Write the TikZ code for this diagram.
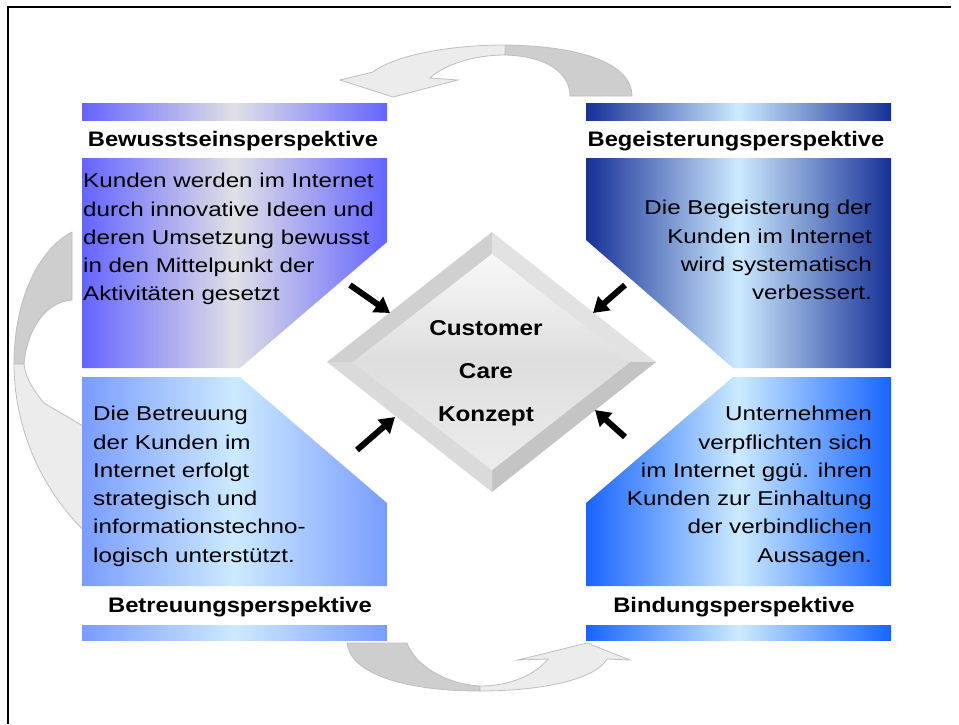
\documentclass[tikz,border=0pt]{standalone}
\usepackage{fontspec}
\setmainfont{Liberation Sans}
\newfontfamily\bodyfont[FakeStretch=1.21]{Liberation Sans}
\newfontfamily\titlefont[FakeStretch=1.13]{Liberation Sans}
\usetikzlibrary{arrows.meta}
\definecolor{tlblue}{RGB}{100,100,255}
\definecolor{tlmid}{RGB}{224,224,230}
\definecolor{trnavy}{RGB}{22,48,150}
\definecolor{lcyan}{RGB}{204,234,255}
\definecolor{blblue}{RGB}{122,156,255}
\definecolor{brblue}{RGB}{24,100,255}
\definecolor{gdarkc}{RGB}{206,206,206}
\definecolor{glightc}{RGB}{236,236,236}
\definecolor{gedgec}{RGB}{190,190,190}
\begin{document}
\begin{tikzpicture}[x=1pt,y=-1pt,
  ttl/.style={font=\titlefont\bfseries\fontsize{21}{25}\selectfont, inner sep=0pt, anchor=base},
  bodyl/.style={font=\bodyfont\fontsize{20}{28.3}\selectfont, inner sep=0pt, align=left, anchor=north west},
  bodyr/.style={font=\bodyfont\fontsize{20}{28.3}\selectfont, inner sep=0pt, align=right, anchor=north east},
  dtext/.style={font=\titlefont\bfseries\fontsize{21.5}{43}\selectfont, inner sep=0pt, align=center, anchor=north},
  blk/.style={line width=6pt, -{Triangle[length=15pt,width=18pt]}},
  gdark/.style={fill=gdarkc, draw=gedgec, line width=0.8pt},
  glight/.style={fill=glightc, draw=gedgec, line width=0.8pt}]
\useasboundingbox (0,0) rectangle (959,724);
\fill[white] (0,0) rectangle (959,724);
% frame
\draw[line width=2pt] (8,724) -- (8,7) -- (951,7);

% grey cycle arrows
% top arrow
\path[gdark] (632,96) .. controls (632,65) and (585,46) .. (505,45) -- (505,55) .. controls (545,56) and (570,72) .. (570,96) -- cycle;
\path[glight] (505,45) .. controls (450,45) and (395,55) .. (373,72) -- (340,80) -- (393,97) -- (458,80) -- (430,78) .. controls (445,64) and (475,55) .. (505,55) -- cycle;
% left arrow
\path[gdark] (72,232) .. controls (38,250) and (14,300) .. (14,364) -- (24,364) .. controls (27,330) and (45,302) .. (72,300) -- cycle;
\path[glight] (14,364) .. controls (14,425) and (40,492) .. (92,538) -- (100,436) -- (44,403) .. controls (35,392) and (26,380) .. (24,364) -- cycle;
% bottom arrow
\path[gdark] (347,643) .. controls (350,672) and (400,691) .. (480,691) -- (480,686) .. controls (445,684) and (415,665) .. (407,643) -- cycle;
\path[glight] (480,691) .. controls (540,691) and (595,680) .. (607,659) -- (630,660) -- (587,643) -- (518,660) -- (548,659) .. controls (535,675) and (510,686) .. (480,686) -- cycle;

% title bars
\shade[left color=tlblue, right color=tlblue, middle color=tlmid] (82,103) rectangle (387,120);
\shade[left color=trnavy, right color=trnavy, middle color=lcyan] (586,103) rectangle (891,120);
\shade[left color=blblue, right color=blblue, middle color=lcyan] (82,625) rectangle (387,640);
\shade[left color=brblue, right color=brblue, middle color=lcyan] (586,625) rectangle (891,640);

% panels
\shade[left color=tlblue, right color=tlblue, middle color=tlmid] (82,158) -- (387,158) -- (387,242) -- (240,368) -- (82,368) -- cycle;
\shade[left color=trnavy, right color=trnavy, middle color=lcyan] (586,158) -- (891,158) -- (891,368) -- (733,368) -- (586,240) -- cycle;
\shade[left color=blblue, right color=blblue, middle color=lcyan] (82,377) -- (240,377) -- (387,503) -- (387,586) -- (82,586) -- cycle;
\shade[left color=brblue, right color=brblue, middle color=lcyan] (586,503) -- (733,377) -- (891,377) -- (891,586) -- (586,586) -- cycle;

% diamond
\coordinate (dT) at (492,232);
\coordinate (dL) at (327,362);
\coordinate (dR) at (656,362);
\coordinate (dB) at (492,492);
\coordinate (iT) at (492,254);
\coordinate (iL) at (353,362);
\coordinate (iR) at (630,362);
\coordinate (iB) at (492,470);
\fill[fill={rgb,255:red,208;green,208;blue,208}] (dL) -- (dT) -- (iT) -- (iL) -- cycle;
\fill[fill={rgb,255:red,226;green,226;blue,226}] (dT) -- (dR) -- (iR) -- (iT) -- cycle;
\fill[fill={rgb,255:red,196;green,196;blue,196}] (dR) -- (dB) -- (iB) -- (iR) -- cycle;
\fill[fill={rgb,255:red,218;green,218;blue,218}] (dB) -- (dL) -- (iL) -- (iB) -- cycle;
\shade[top color={rgb,255:red,248;green,248;blue,248}, bottom color={rgb,255:red,236;green,236;blue,236}, middle color={rgb,255:red,222;green,222;blue,222}] (iT) -- (iR) -- (iB) -- (iL) -- cycle;

% black arrows
\coordinate (a1s) at (350,285); \coordinate (a1e) at (390,313);
\coordinate (a2s) at (625,285); \coordinate (a2e) at (593,313);
\coordinate (a3s) at (357,450); \coordinate (a3e) at (395,417);
\coordinate (a4s) at (625,437); \coordinate (a4e) at (595,410);
\draw[blk] (a1s) -- (a1e);
\draw[blk] (a2s) -- (a2e);
\draw[blk] (a3s) -- (a3e);
\draw[blk] (a4s) -- (a4e);

% texts
\node[dtext] (cc) at (486,320) {Customer\\Care\\Konzept};
\node[ttl] (t1) at (233,146) {Bewusstseinsperspektive};
\node[ttl] (t2) at (736,146) {Begeisterungsperspektive};
\node[ttl] (t3) at (240,612) {Betreuungsperspektive};
\node[ttl] (t4) at (734,612) {Bindungsperspektive};
\node[bodyl] (b1) at (83,173) {Kunden werden im Internet\\durch innovative Ideen und\\deren Umsetzung bewusst\\in den Mittelpunkt der\\Aktivitäten gesetzt};
\node[bodyr] (b2) at (872,200) {Die Begeisterung der\\Kunden im Internet\\wird systematisch\\verbessert.};
\node[bodyl] (b3) at (93,406) {Die Betreuung\\der Kunden im\\Internet erfolgt\\strategisch und\\informationstechno-\\logisch unterstützt.};
\node[bodyr] (b4) at (872,406) {Unternehmen\\verpflichten sich\\im Internet ggü. ihren\\Kunden zur Einhaltung\\der verbindlichen\\Aussagen.};
\end{tikzpicture}
\end{document}
